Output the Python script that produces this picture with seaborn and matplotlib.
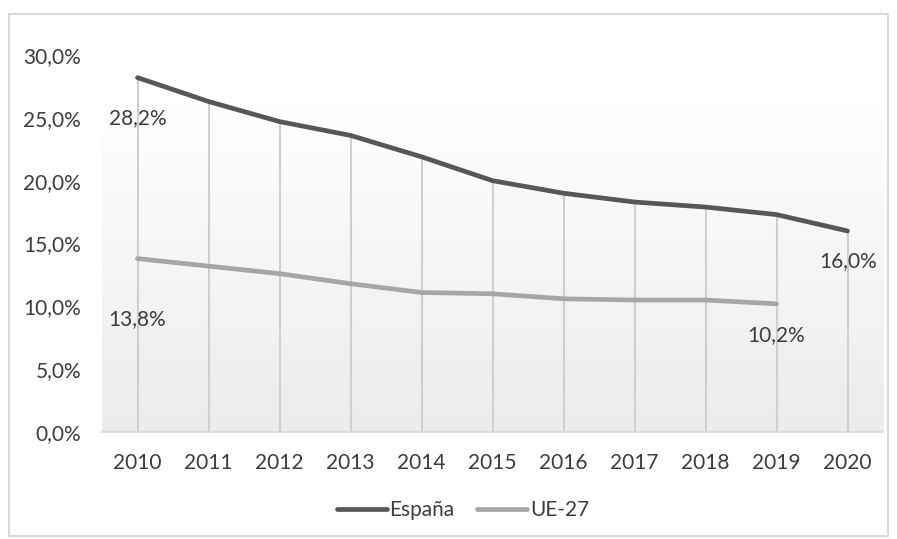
import numpy as np
import pandas as pd
import matplotlib
matplotlib.use("Agg")
import matplotlib.pyplot as plt
import seaborn as sns

years = ["2010", "2011", "2012", "2013", "2014", "2015", "2016", "2017", "2018", "2019", "2020"]
espana = [28.2, 26.3, 24.7, 23.6, 21.9, 20.0, 19.0, 18.3, 17.9, 17.3, 16.0]
ue27 = [13.8, 13.2, 12.6, 11.8, 11.1, 11.0, 10.6, 10.5, 10.5, 10.2, None]
yticks = [0, 5, 10, 15, 20, 25, 30]

sns.set_theme(style="white")
plt.rcParams["font.family"] = ["Lato", "DejaVu Sans"]
TXT = "#3c3c3c"
FS = 15

df = pd.DataFrame({"Año": years * 2,
                   "Valor": espana + ue27,
                   "Serie": ["España"] * len(years) + ["UE-27"] * len(years)})
df = df.dropna()
df["x"] = df["Año"].map({y: i for i, y in enumerate(years)})

fig = plt.figure(figsize=(8.97, 5.39), dpi=100)
ax = fig.add_axes([102 / 897, 1 - 432 / 539, 781 / 897, 377 / 539])

# background gradient of plot area
top = (432 - 102) / (377 / 30)
grad = np.linspace(1.0, 0.925, 256).reshape(-1, 1)
ax.imshow(np.dstack([grad, grad, grad]), extent=[-0.5, len(years) - 0.5, 0, top],
          aspect="auto", zorder=0, origin="upper")

# drop lines
tops = [max(v for v in (a, b) if v is not None) for a, b in zip(espana, ue27)]
ax.vlines(range(len(years)), 0, tops, color="#cfcfcf", lw=1.5, zorder=1)

palette = {"España": "#575757", "UE-27": "#a6a6a6"}
sns.lineplot(data=df, x="x", y="Valor", hue="Serie", palette=palette, lw=3.4,
             ax=ax, legend=False, zorder=3)

ax.set_xlim(-0.5, len(years) - 0.5)
ax.set_ylim(0, 30)
ax.set_xticks(range(len(years)))
ax.set_xticklabels(years)
ax.set_yticks(yticks)
ax.set_yticklabels([f"{t:.1f}%".replace(".", ",") for t in yticks])
ax.tick_params(axis="both", length=0, labelsize=FS, labelcolor=TXT)
ax.tick_params(axis="y", pad=15)
ax.tick_params(axis="x", pad=15)
ax.set_xlabel("")
ax.set_ylabel("")
for s in ["top", "right", "left"]:
    ax.spines[s].set_visible(False)
ax.spines["bottom"].set_color("#d9d9d9")
ax.spines["bottom"].set_linewidth(1.2)
ax.patch.set_alpha(0)

def lab(i, v, dx, dy):
    ax.annotate(f"{v:.1f}%".replace(".", ","), (i, v), xytext=(dx, dy),
                textcoords="offset pixels", ha="center", va="center",
                fontsize=FS, color=TXT, zorder=5)

lab(0, espana[0], 0, -40)
lab(0, ue27[0], 0, -61)
lab(10, espana[10], 1, -30)
lab(9, ue27[9], 0, -31)

# legend
from matplotlib.lines import Line2D
handles = [Line2D([], [], color=palette["España"], lw=3.4),
           Line2D([], [], color=palette["UE-27"], lw=3.4)]
fig.legend(handles, ["España", "UE-27"], loc="center", bbox_to_anchor=(463 / 897, 1 - 510 / 539),
           ncol=2, frameon=False, fontsize=FS, handlelength=2.4, handletextpad=0.12,
           columnspacing=1.1, labelcolor=TXT)

# chart border
fig.patches.append(plt.Rectangle((9 / 897, 1 - 536 / 539), 879 / 897, 522 / 539,
                                 transform=fig.transFigure, fill=False,
                                 edgecolor="#d9d9d9", lw=1.5))

fig.savefig("out.png", dpi=100)
